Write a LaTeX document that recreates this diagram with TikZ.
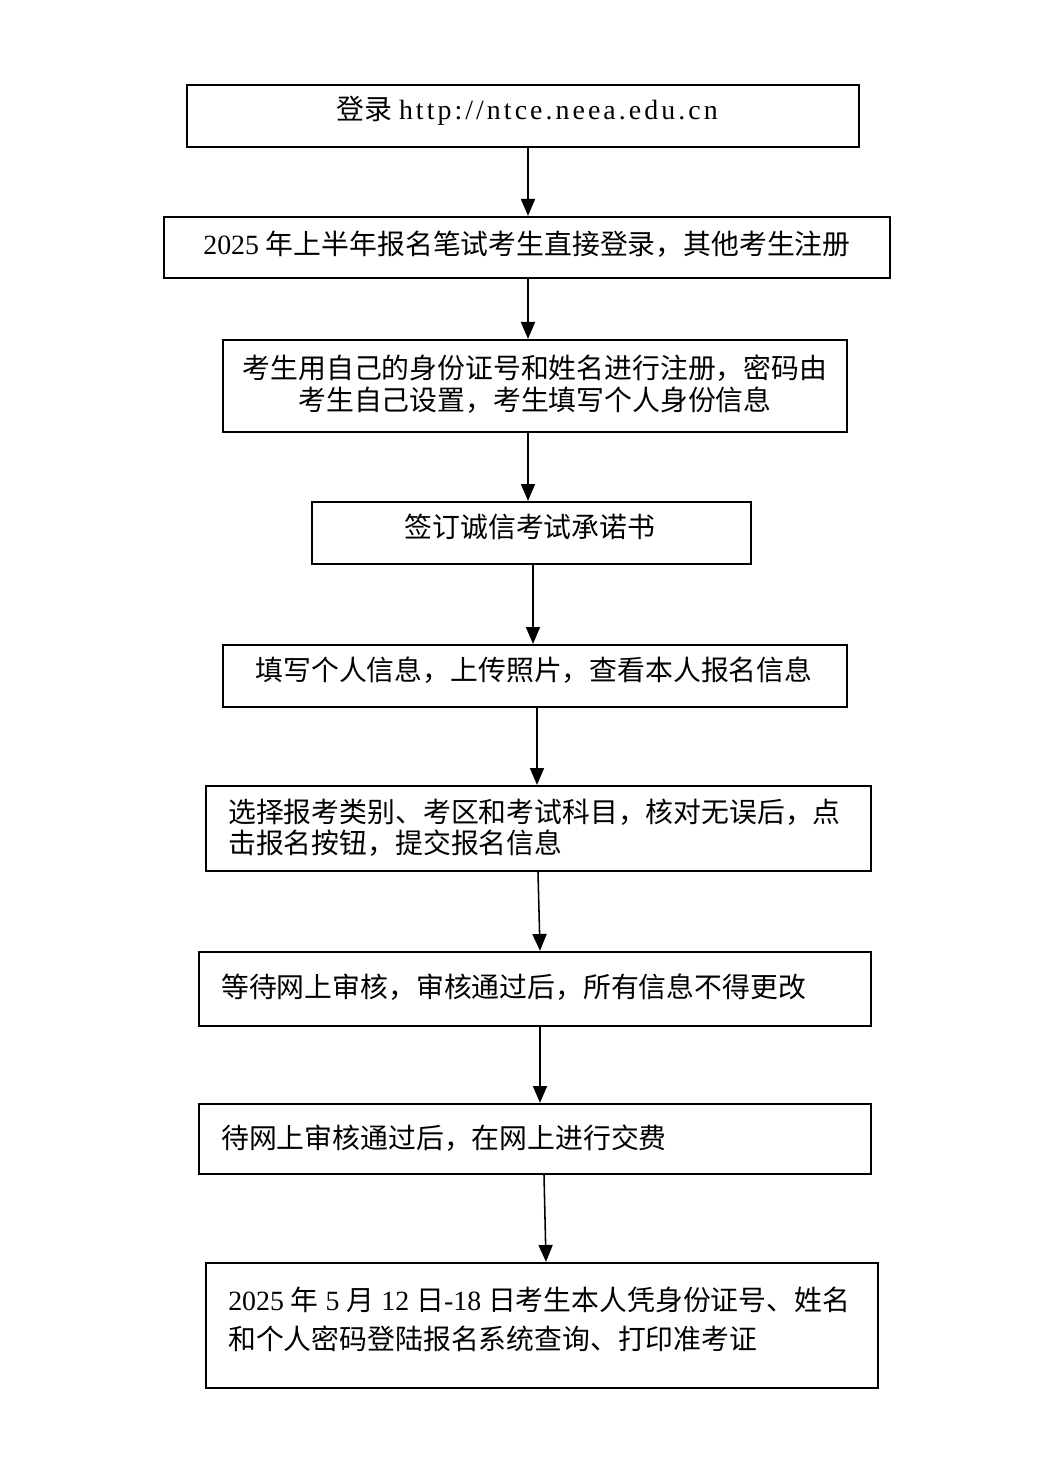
\documentclass[tikz,border=0pt]{standalone}
\usepackage{fontspec}
\setmainfont{Noto Sans CJK SC}
\newfontfamily\lat{Liberation Serif}
\newfontfamily\urlf[LetterSpace=11]{Liberation Serif}
\usetikzlibrary{arrows.meta}
\def\PX{0.025cm}
\tikzset{
  box/.style={draw=black, line width=1.6pt, inner sep=0pt, fill=white},
  txt/.style={inner sep=0pt, font=\fontsize{19.8pt}{22.8pt}\selectfont},
  arr/.style={line width=1.1pt, -{Triangle[length=12pt,width=10pt]}}
}
\begin{document}
\begin{tikzpicture}[x=0.025cm,y=-0.025cm]
\fill[white] (0,0) rectangle (1046,1463);
\useasboundingbox (0,0) rectangle (1046,1463);
% boxes
\node[box, minimum width=672*\PX, minimum height=62*\PX] (b1) at (523,116) {};
\node[box, minimum width=726*\PX, minimum height=61*\PX] (b2) at (527,247.5) {};
\node[box, minimum width=624*\PX, minimum height=92*\PX] (b3) at (535,386) {};
\node[box, minimum width=439*\PX, minimum height=62*\PX] (b4) at (531.5,533) {};
\node[box, minimum width=624*\PX, minimum height=62*\PX] (b5) at (535,676) {};
\node[box, minimum width=665*\PX, minimum height=85*\PX] (b6) at (538.5,828.5) {};
\node[box, minimum width=672*\PX, minimum height=74*\PX] (b7) at (535,989) {};
\node[box, minimum width=672*\PX, minimum height=70*\PX] (b8) at (535,1139) {};
\node[box, minimum width=672*\PX, minimum height=125*\PX] (b9) at (542,1325.5) {};
% texts
\node[txt] (t1) at (527,111) {登录{\lat\ }{\urlf http://ntce.neea.edu.cn}};
\node[txt] (t2) at (527,244) {{\lat 2025 }年上半年报名笔试考生直接登录，其他考生注册};
\node[txt, align=center] (t3) at (535,384) {考生用自己的身份证号和姓名进行注册，密码由\\考生自己设置，考生填写个人身份信息};
\node[txt] (t4) at (530,527) {签订诚信考试承诺书};
\node[txt] (t5) at (534,670) {填写个人信息，上传照片，查看本人报名信息};
\node[txt, align=left, anchor=west, font=\fontsize{19.8pt}{22pt}\selectfont] (t6) at (228,827.5) {选择报考类别、考区和考试科目，核对无误后，点\\击报名按钮，提交报名信息};
\node[txt, anchor=west] (t7) at (221,987) {等待网上审核，审核通过后，所有信息不得更改};
\node[txt, anchor=west] (t8) at (221,1138) {待网上审核通过后，在网上进行交费};
\node[txt, align=left, anchor=west, font=\fontsize{19.8pt}{27.7pt}\selectfont] (t9) at (228,1319.5) {{\lat 2025 }年{\lat\ 5 }月{\lat\ 12 }日{\lat -18 }日考生本人凭身份证号、姓名\\和个人密码登陆报名系统查询、打印准考证};
% arrows
\draw[arr] (528,0 |- b1.south) -- (528,0 |- b2.north);
\draw[arr] (528,0 |- b2.south) -- (528,0 |- b3.north);
\draw[arr] (528,0 |- b3.south) -- (528,0 |- b4.north);
\draw[arr] (533,0 |- b4.south) -- (533,0 |- b5.north);
\draw[arr] (537,0 |- b5.south) -- (537,0 |- b6.north);
\draw[arr] (538,0 |- b6.south) -- (540,0 |- b7.north);
\draw[arr] (540,0 |- b7.south) -- (540,0 |- b8.north);
\draw[arr] (544,0 |- b8.south) -- (546,0 |- b9.north);
\end{tikzpicture}
\end{document}
